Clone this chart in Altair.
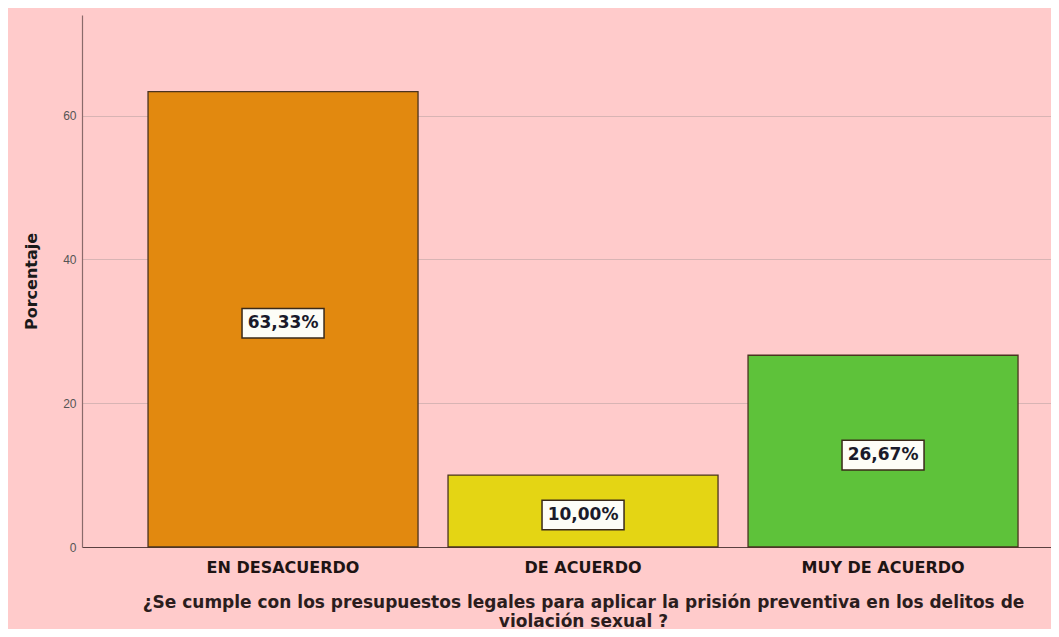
import altair as alt
import pandas as pd

categories = ["EN DESACUERDO", "DE ACUERDO", "MUY DE ACUERDO"]
values = [63.33, 10.00, 26.67]
labels = ["63,33%", "10,00%", "26,67%"]
colors = ["#E2890F", "#E4D514", "#5EC23A"]

df = pd.DataFrame({"cat": categories, "value": values, "label": labels, "color": colors})

x_enc = alt.X("cat:N", sort=categories,
              scale=alt.Scale(paddingInner=0.1, paddingOuter=0.165, align=0.667),
              axis=alt.Axis(
                  title=["¿Se cumple con los presupuestos legales para aplicar la prisión preventiva en los delitos de",
                         "violación sexual ?"],
                  titleX=501, titleY=60, titleAlign="center", titleBaseline="alphabetic",
                  titleFont="DejaVu Sans", titleFontSize=17,
                  titleFontWeight="bold", titleColor="#2b1d1d", titleLineHeight=19,
                  labelAngle=0, labelFont="DejaVu Sans", labelFontSize=16, labelFontWeight="bold",
                  labelColor="#1e1414", labelPadding=12, ticks=False,
                  domainColor="#5a4040", domainWidth=1.2))

y_scale = alt.Scale(domain=[0, 74], nice=False)

bars = alt.Chart(df).mark_bar(stroke="#4a3320", strokeWidth=1.3).encode(
    x=x_enc,
    y=alt.Y("value:Q", scale=y_scale,
            axis=alt.Axis(title="Porcentaje", values=[0, 20, 40, 60], ticks=False,
                          labelFont="Liberation Sans", labelFontSize=12, labelColor="#555555",
                          labelPadding=6, titleFont="DejaVu Sans", titleFontSize=16,
                          titleFontWeight="bold", titleColor="#1a1a1a", titlePadding=23,
                          grid=True, gridColor="#d8b4b4", gridWidth=1,
                          domainColor="#8a6a6a", domainWidth=1.2)),
    color=alt.Color("color:N", scale=None),
)

base = alt.Chart(df).transform_calculate(mid="datum.value / 2")

boxes = base.mark_point(
    shape="M-1,-0.36H1V0.36H-1Z", size=82 * 82, filled=True, fill="#fdfdf7",
    stroke="#3a2a1a", strokeWidth=1.5, opacity=1, yOffset=4
).encode(x=alt.X("cat:N", sort=categories), y=alt.Y("mid:Q", scale=y_scale))

texts = base.mark_text(
    font="DejaVu Sans", fontSize=17, fontWeight="bold", color="#1a1a2a", yOffset=4,
    baseline="middle", align="center"
).encode(x=alt.X("cat:N", sort=categories), y=alt.Y("mid:Q", scale=y_scale), text="label:N")

chart = alt.layer(bars, boxes, texts).properties(
    width=969, height=532,
    background="#FFCBCB",
    padding={"left": 74, "top": 7, "right": 0, "bottom": 82},
    autosize=alt.AutoSizeParams(type="none"),
).configure_view(stroke=None, fill="#FFCBCB")

chart.save("out.html", embed_options={"renderer": "svg", "actions": False})
